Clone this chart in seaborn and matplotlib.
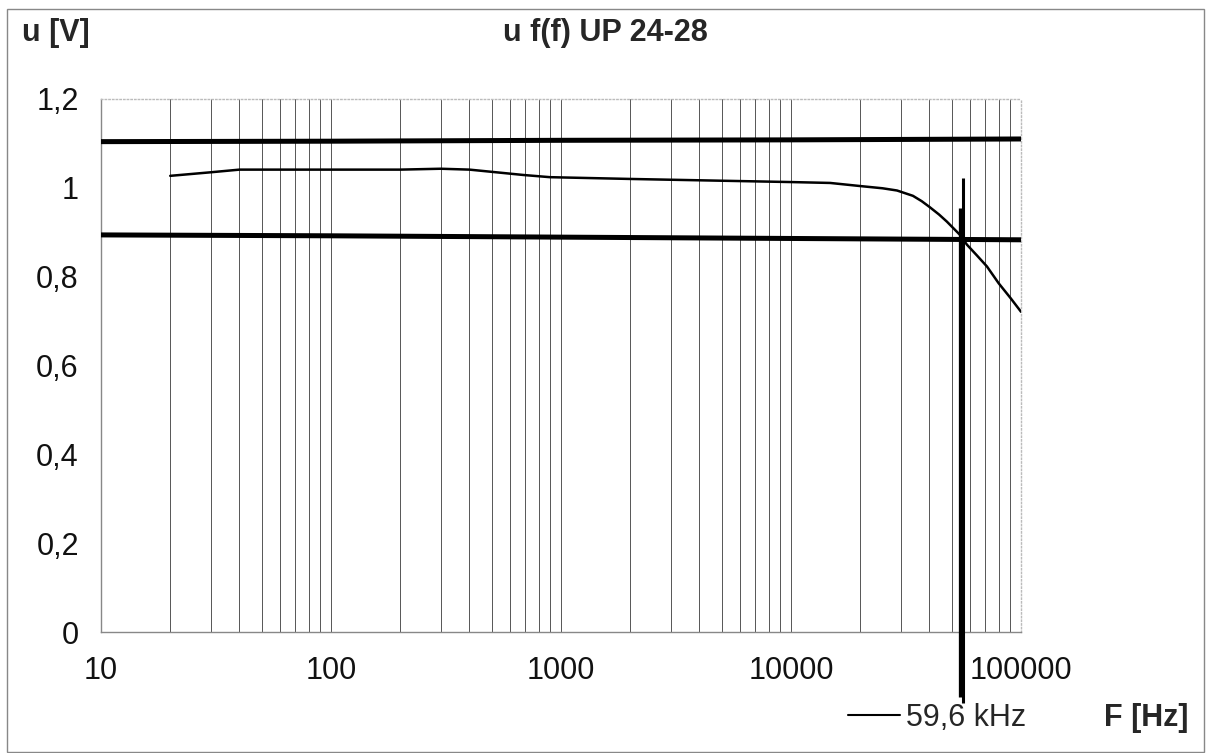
import numpy as np
import pandas as pd
import matplotlib
matplotlib.use("Agg")
import matplotlib.pyplot as plt
from matplotlib.lines import Line2D
from matplotlib.patches import Rectangle
import seaborn as sns

# --- data ---
freq = [20, 30, 40, 50, 100, 200, 300, 400, 684, 895, 1337, 2000, 5000, 10000,
        14800, 20000, 25000, 28900, 33900, 37000, 40000, 44000, 47600, 54300, 58200,
        64000, 71100, 80000, 90000, 100000]
u = [1.027, 1.035, 1.041, 1.041, 1.041, 1.041, 1.043, 1.041, 1.029, 1.024, 1.022, 1.020,
     1.016, 1.013, 1.011, 1.004, 0.999, 0.994, 0.982, 0.970, 0.957, 0.940, 0.924, 0.894,
     0.872, 0.849, 0.823, 0.785, 0.752, 0.721]

limit_freq = [10, 100, 1000, 10000, 100000]
upper_limit = [1.104, 1.105, 1.107, 1.108, 1.110]
lower_limit = [0.894, 0.892, 0.889, 0.886, 0.883]

marker_freq = [54600, 54600]
marker_u = [0.955, -0.147]
marker2_freq = [55700, 55700]
marker2_u = [1.023, -0.160]

x_ticks = [10, 100, 1000, 10000, 100000]
x_tick_labels = ["10", "100", "1000", "10000", "100000"]
y_ticks = [0, 0.2, 0.4, 0.6, 0.8, 1.0, 1.2]
y_tick_labels = ["0", "0,2", "0,4", "0,6", "0,8", "1", "1,2"]

title = "u f(f) UP 24-28"
marker_label = "59,6 kHz"

# --- style ---
sns.set_theme(style="white")
plt.rcParams['font.family'] = ['Liberation Sans', 'DejaVu Sans']

W, H = 1207, 753
fig = plt.figure(figsize=(W / 100, H / 100), dpi=100)
ax = fig.add_axes([101 / W, 1 - 632 / H, (1021 - 101) / W, (632 - 99) / H])

df = pd.DataFrame({"f": freq, "u": u})
lim = pd.DataFrame({"f": limit_freq, "up": upper_limit, "lo": lower_limit})

sns.lineplot(data=lim, x="f", y="up", ax=ax, color="black", lw=3.6, zorder=3)
sns.lineplot(data=lim, x="f", y="lo", ax=ax, color="black", lw=3.6, zorder=3)
sns.lineplot(data=df, x="f", y="u", ax=ax, color="black", lw=1.8, zorder=4)
ax.plot(marker_freq, marker_u, color="black", lw=3.8, clip_on=False, zorder=5,
        solid_capstyle="butt")
ax.plot(marker2_freq, marker2_u, color="black", lw=2.2, clip_on=False, zorder=5,
        solid_capstyle="butt")

ax.set_xscale("log")
ax.set_xlim(10, 100000)
ax.set_ylim(0, 1.2)
ax.set_xticks(x_ticks)
ax.set_xticklabels(x_tick_labels)
ax.set_yticks(y_ticks)
ax.set_yticklabels(y_tick_labels)
ax.xaxis.set_minor_locator(matplotlib.ticker.LogLocator(base=10, subs=np.arange(2, 10)))
ax.xaxis.set_minor_formatter(matplotlib.ticker.NullFormatter())

ax.grid(False)
ax.grid(True, which="both", axis="x", color="#555555", lw=0.7, zorder=1)
ax.set_xlabel("")
ax.set_ylabel("")

ax.tick_params(axis="both", which="major", direction="out", length=7, width=1,
               color="#888888", labelsize=22, labelcolor="#111111")
ax.tick_params(axis="y", pad=9)
ax.tick_params(axis="x", pad=10)
ax.tick_params(axis="x", which="minor", length=0)

for s in ["left", "bottom"]:
    ax.spines[s].set_color("#888888")
    ax.spines[s].set_linewidth(1)
for s in ["top", "right"]:
    ax.spines[s].set_color("#bbbbbb")
    ax.spines[s].set_linestyle(":")
    ax.spines[s].set_linewidth(1)

# texts
fig.text(22 / W, 1 - 33 / H, "u [V]", fontsize=22, fontweight="bold", ha="left", va="center")
fig.text(605 / W, 1 - 33 / H, title, fontsize=22, fontweight="bold", ha="center", va="center")
fig.text(1188 / W, 1 - 718 / H, "F [Hz]", fontsize=22, fontweight="bold", ha="right", va="center")

fig.legend(handles=[Line2D([], [], color="black", lw=1.5)], labels=[marker_label],
           loc="center left", bbox_to_anchor=(848 / W, 1 - 718 / H), frameon=False,
           fontsize=22, handlelength=1.7, handletextpad=0.2, borderpad=0, borderaxespad=0)

# figure border
fig.patches.append(Rectangle((7 / W, 1 - 752 / H), (1204 - 7) / W, (752 - 9) / H,
                             transform=fig.transFigure, fill=False, edgecolor="#888888", lw=1))

fig.savefig("out.png", dpi=100)
